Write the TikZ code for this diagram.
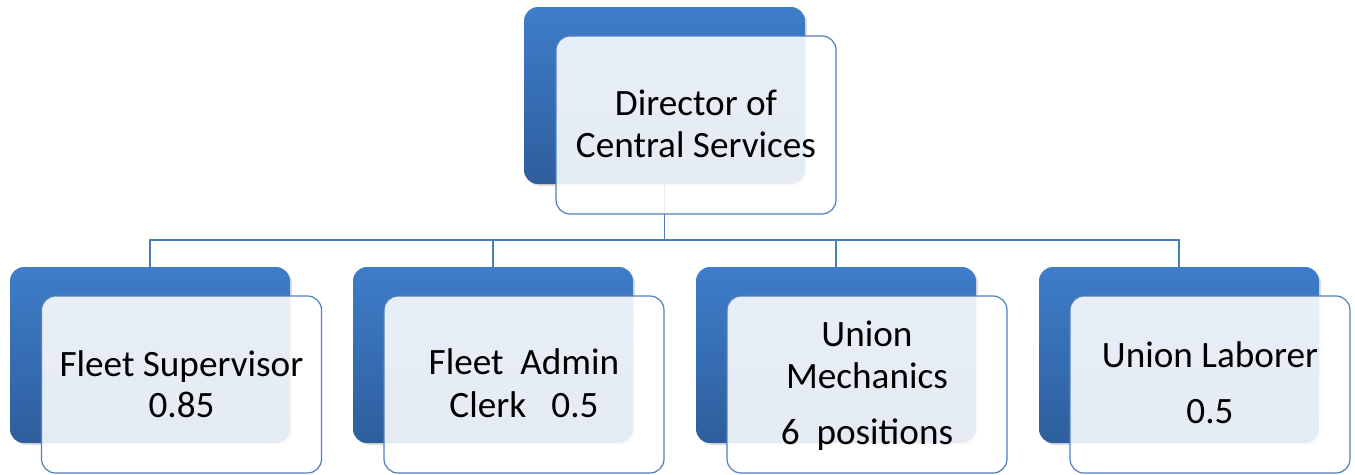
\documentclass[tikz,border=0pt]{standalone}
\usepackage{fontspec}
\setmainfont{Carlito}
\usetikzlibrary{shadows}
\definecolor{bluetop}{RGB}{62,125,202}
\definecolor{bluebot}{RGB}{46,94,156}
\definecolor{edgeblue}{RGB}{79,129,189}
\definecolor{lineblue}{RGB}{74,126,187}
\tikzset{
  bluebox/.style={rectangle, rounded corners=14pt, minimum width=280pt, minimum height=177pt,
    inner sep=0pt, outer sep=0pt, top color=bluetop, bottom color=bluebot, draw=none,
    drop shadow={shadow xshift=2pt, shadow yshift=-2pt, opacity=0.25}},
  whitebox/.style={rectangle, rounded corners=14pt, minimum width=280pt, minimum height=177pt,
    inner sep=0pt, outer sep=0pt, fill=white, fill opacity=0.88, draw=edgeblue, line width=1.2pt},
  label/.style={anchor=base, inner sep=0pt, font=\fontsize{37.2}{44}\selectfont, text=black},
  conn/.style={draw=lineblue, line width=1.5pt}
}
\begin{document}
\begin{tikzpicture}[x=1pt,y=-1pt]
\useasboundingbox (0,0) rectangle (1355,474);
\fill[white] (0,0) rectangle (1355,474);
% connectors
\coordinate (jn) at (664.5,240);
\coordinate (tb) at (664.5,184);
\coordinate (n1) at (150,267);
\coordinate (n2) at (493,267);
\coordinate (n3) at (836,267);
\coordinate (n4) at (1179,267);
\draw[conn] (tb) -- (jn);
\draw[conn] (n1) |- (jn) -| (n4);
\draw[conn] (n2) -- (n2 |- jn);
\draw[conn] (n3) -- (n3 |- jn);
% blue boxes
\node[bluebox, minimum width=281pt] (topb) at (664.5,95.5) {};
\node[bluebox, minimum height=176pt] (b1) at (150,355) {};
\node[bluebox, minimum height=176pt] (b2) at (493,355) {};
\node[bluebox, minimum height=176pt] (b3) at (836,355) {};
\node[bluebox, minimum height=176pt] (b4) at (1179,355) {};
% white boxes
\node[whitebox, minimum height=178pt] (topw) at (696,125) {};
\node[whitebox] (w1) at (181.5,384.5) {};
\node[whitebox] (w2) at (524,384.5) {};
\node[whitebox] (w3) at (867,384.5) {};
\node[whitebox] (w4) at (1210,384.5) {};
% labels
\node[label] (t0a) at (696,115) {Director of};
\node[label] (t0b) at (696,157) {Central Services};
\node[label] (t1a) at (181.5,376) {Fleet Supervisor};
\node[label] (t1b) at (181.5,417) {0.85};
\node[label] (t2a) at (524,374) {Fleet\ \ Admin};
\node[label] (t2b) at (524,417) {Clerk\ \ \ 0.5};
\node[label] (t3a) at (867,346) {Union};
\node[label] (t3b) at (867,388) {Mechanics};
\node[label] (t3c) at (867,444) {6\ \ positions};
\node[label] (t4a) at (1210,367) {Union Laborer};
\node[label] (t4b) at (1210,423) {0.5};
\end{tikzpicture}
\end{document}
